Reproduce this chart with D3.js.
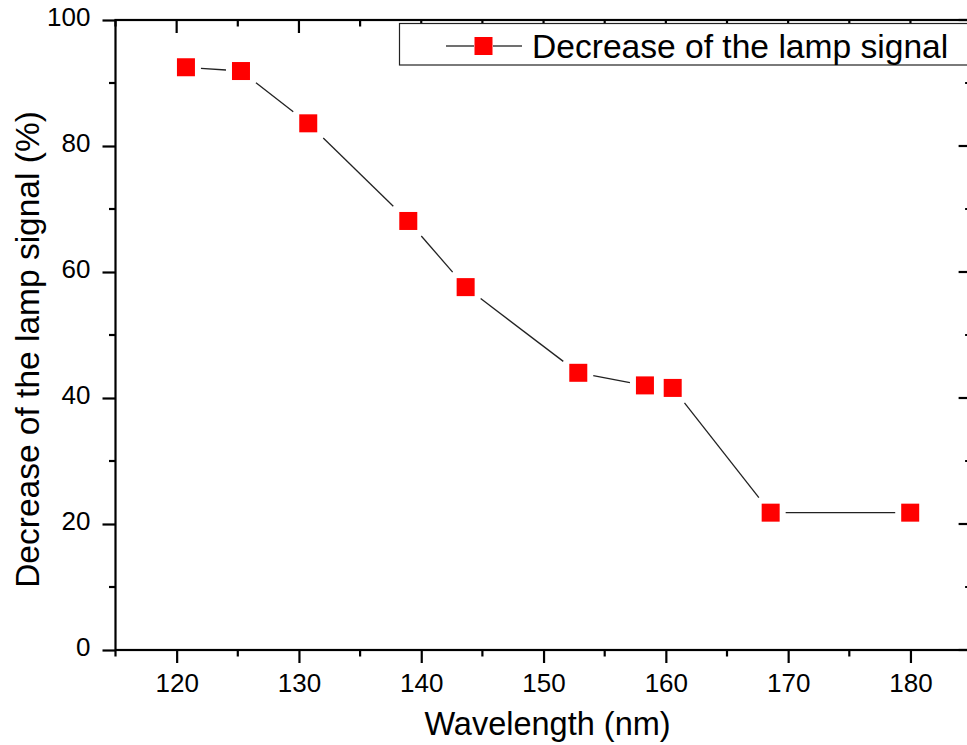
<!DOCTYPE html>
<html>
<head>
<meta charset="utf-8">
<script src="https://cdn.jsdelivr.net/npm/d3@7"></script>
<style>
  html, body { margin: 0; padding: 0; background: #fff; }
  svg { display: block; font-family: "Liberation Sans", Arial, sans-serif; }
</style>
</head>
<body>
<svg id="chart" width="967" height="745"></svg>
<script>
// Data
const wavelength = [120.76, 125.26, 130.76, 138.94, 143.63, 152.84, 158.29, 160.56, 168.57, 179.98];
const decrease   = [92.5, 91.9, 83.6, 68.1, 57.6, 44.0, 42.0, 41.6, 21.8, 21.8];
const xTicks = [120, 130, 140, 150, 160, 170, 180];
const xMinorTicks = [115, 125, 135, 145, 155, 165, 175, 185];
const yTicks = [0, 20, 40, 60, 80, 100];
const yMinorTicks = [10, 30, 50, 70, 90];
const seriesName = "Decrease of the lamp signal";
const xTitle = "Wavelength (nm)";
const yTitle = "Decrease of the lamp signal (%)";

const svg = d3.select("#chart");
const L = 115.5, R = 971.6, T = 20, B = 650;
const x = d3.scaleLinear().domain([115, 185]).range([L, R]);
const y = d3.scaleLinear().domain([0, 100]).range([B, T]);

const majorLen = 13, minorLen = 6.5;
const axisColor = "#000";

// Frame
svg.append("rect").attr("x", L).attr("y", T).attr("width", R - L).attr("height", B - T)
  .attr("fill", "none").attr("stroke", axisColor).attr("stroke-width", 2.2);

// Bottom axis (ticks outward)
const bottom = svg.append("g").attr("transform", `translate(0,${B})`)
  .call(d3.axisBottom(x).tickValues(xTicks).tickSize(majorLen).tickPadding(11).tickFormat(d3.format("d")));
bottom.select(".domain").remove();
bottom.selectAll("line").attr("stroke-width", 2.2).attr("stroke", axisColor);
bottom.selectAll("text").attr("font-size", 26).attr("fill", "#000").attr("font-family", "Liberation Sans, Arial, sans-serif");
svg.append("g").selectAll("line").data(xMinorTicks).join("line")
  .attr("x1", d => x(d)).attr("x2", d => x(d)).attr("y1", B).attr("y2", B + minorLen)
  .attr("stroke", axisColor).attr("stroke-width", 2.2);

// Top axis (ticks inward)
svg.append("g").selectAll("line").data(xTicks).join("line")
  .attr("x1", d => x(d)).attr("x2", d => x(d)).attr("y1", T).attr("y2", T + majorLen)
  .attr("stroke", axisColor).attr("stroke-width", 2.2);
svg.append("g").selectAll("line").data(xMinorTicks).join("line")
  .attr("x1", d => x(d)).attr("x2", d => x(d)).attr("y1", T).attr("y2", T + minorLen)
  .attr("stroke", axisColor).attr("stroke-width", 2.2);

// Left axis (ticks outward)
const left = svg.append("g").attr("transform", `translate(${L},0)`)
  .call(d3.axisLeft(y).tickValues(yTicks).tickSize(majorLen).tickPadding(12).tickFormat(d3.format("d")));
left.select(".domain").remove();
left.selectAll("line").attr("stroke-width", 2.2).attr("stroke", axisColor);
left.selectAll("text").attr("font-size", 26).attr("fill", "#000").attr("dy", "0.2em").attr("font-family", "Liberation Sans, Arial, sans-serif");
svg.append("g").selectAll("line").data(yMinorTicks).join("line")
  .attr("x1", L - minorLen).attr("x2", L).attr("y1", d => y(d)).attr("y2", d => y(d))
  .attr("stroke", axisColor).attr("stroke-width", 2.2);

// Right axis (ticks inward)
svg.append("g").selectAll("line").data(yTicks).join("line")
  .attr("x1", R - majorLen).attr("x2", R).attr("y1", d => y(d)).attr("y2", d => y(d))
  .attr("stroke", axisColor).attr("stroke-width", 2.2);
svg.append("g").selectAll("line").data(yMinorTicks).join("line")
  .attr("x1", R - minorLen).attr("x2", R).attr("y1", d => y(d)).attr("y2", d => y(d))
  .attr("stroke", axisColor).attr("stroke-width", 2.2);

// Line segments with gaps around markers
const pts = wavelength.map((w, i) => [x(w), y(decrease[i])]);
const h = 15;
const segs = [];
for (let i = 0; i < pts.length - 1; i++) {
  const [x0, y0] = pts[i], [x1, y1] = pts[i + 1];
  const dx = x1 - x0, dy = y1 - y0;
  const t = h / Math.max(Math.abs(dx), Math.abs(dy));
  if (t < 0.5) segs.push([x0 + dx * t, y0 + dy * t, x1 - dx * t, y1 - dy * t]);
}
svg.append("g").selectAll("line").data(segs).join("line")
  .attr("x1", d => d[0]).attr("y1", d => d[1]).attr("x2", d => d[2]).attr("y2", d => d[3])
  .attr("stroke", "#222").attr("stroke-width", 1.3);

// Markers
const ms = 18;
svg.append("g").selectAll("rect").data(pts).join("rect")
  .attr("x", d => d[0] - ms / 2).attr("y", d => d[1] - ms / 2)
  .attr("width", ms).attr("height", ms).attr("fill", "#ff0000");

// Legend
const lg = svg.append("g");
lg.append("rect").attr("x", 399.5).attr("y", 23.5).attr("width", 600).attr("height", 41.5)
  .attr("fill", "#fff").attr("stroke", "#222").attr("stroke-width", 1.2);
lg.append("line").attr("x1", 446).attr("x2", 474).attr("y1", 46).attr("y2", 46).attr("stroke", "#222").attr("stroke-width", 1.3);
lg.append("line").attr("x1", 493).attr("x2", 522).attr("y1", 46).attr("y2", 46).attr("stroke", "#222").attr("stroke-width", 1.3);
lg.append("rect").attr("x", 483.5 - ms / 2).attr("y", 46 - ms / 2).attr("width", ms).attr("height", ms).attr("fill", "#ff0000");
lg.append("text").attr("x", 532).attr("y", 57.5).attr("font-size", 33.6).attr("fill", "#000").text(seriesName);

// Axis titles
svg.append("text").attr("x", 547.5).attr("y", 735).attr("text-anchor", "middle")
  .attr("font-size", 32.5).attr("fill", "#000").text(xTitle);
svg.append("text").attr("transform", "translate(39,349.5) rotate(-90)").attr("text-anchor", "middle")
  .attr("font-size", 33.5).attr("fill", "#000").text(yTitle);
</script>
</body>
</html>
